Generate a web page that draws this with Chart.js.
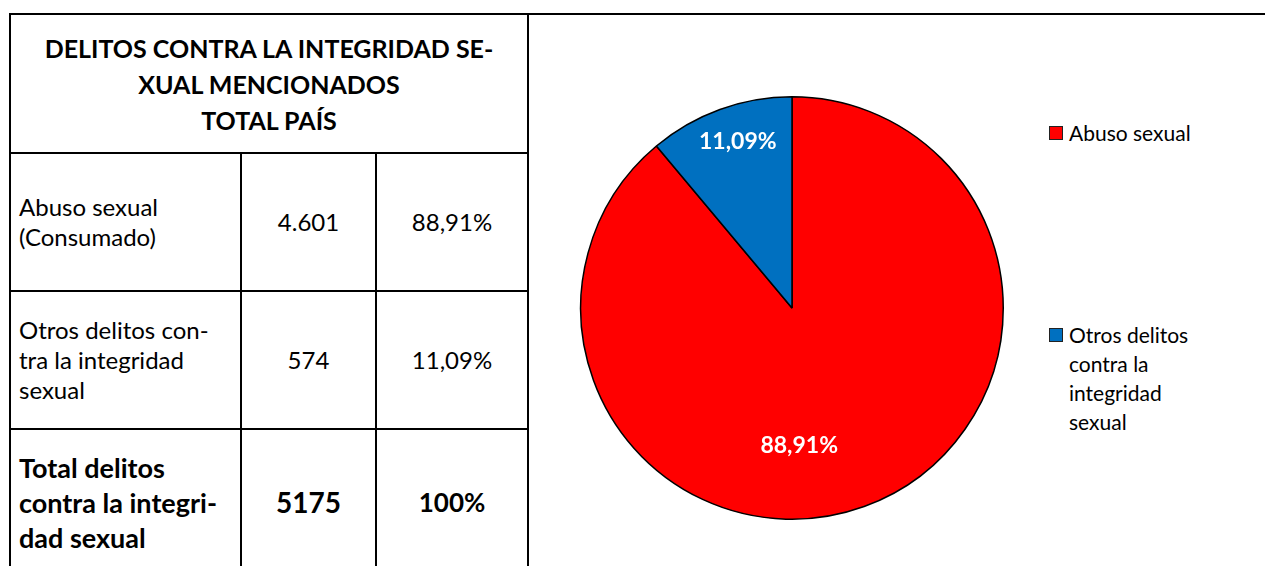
<!DOCTYPE html>
<html>
<head>
<meta charset="utf-8">
<title>Delitos contra la integridad sexual</title>
<script src="https://cdn.jsdelivr.net/npm/chart.js@4.4.0/dist/chart.umd.min.js"></script>
<style>
  html, body { margin: 0; padding: 0; background: #fff; overflow: hidden; }
  body { width: 1265px; height: 566px; position: relative; font-family: Lato, "Open Sans", sans-serif; color: #000; }
  #topline { position: absolute; left: 527px; right: 0; top: 13px; height: 2px; background: #000; }
  table { position: absolute; left: 9px; top: 13px; border-collapse: collapse; table-layout: fixed; }
  td { border: 2px solid #000; padding: 0 8px; vertical-align: middle; }
  td.head { height: 137px; text-align: center; font-weight: bold; font-size: 25px; line-height: 36px; }
  tr.row td { height: 136px; font-size: 24px; line-height: 30px; }
  td.num { text-align: center; }
  tr.total td { font-weight: bold; font-size: 27px; line-height: 35px; padding-top: 4px; }
  tr.total td.big { font-size: 28px; }
  tr.total td.pct { font-size: 26px; }
  #pie-box { position: absolute; left: 577px; top: 93px; width: 430px; height: 430px; }
  .legend { position: absolute; left: 1049px; font-size: 21px; line-height: 29px; }
  .legend .sw { position: absolute; left: 0; top: 8px; width: 12px; height: 12px; border: 1px solid #222; }
  .legend .tx { position: absolute; left: 20px; top: 0; width: 180px; }
</style>
</head>
<body>
<div id="topline"></div>
<table>
  <colgroup><col style="width:231px"><col style="width:135px"><col style="width:152px"></colgroup>
  <tr><td class="head" colspan="3">DELITOS CONTRA LA INTEGRIDAD SE-<br>XUAL MENCIONADOS<br>TOTAL PAÍS</td></tr>
  <tr class="row"><td>Abuso sexual<br>(Consumado)</td><td class="num" id="v0"></td><td class="num" id="p0"></td></tr>
  <tr class="row"><td>Otros delitos con-<br>tra la integridad<br>sexual</td><td class="num" id="v1"></td><td class="num" id="p1"></td></tr>
  <tr class="row total"><td>Total delitos<br>contra la integri-<br>dad sexual</td><td class="num big" id="vt"></td><td class="num pct" id="pt"></td></tr>
</table>
<div id="pie-box"><canvas id="pie"></canvas></div>
<div id="legend"></div>
<script>
// categories and counts
const categories = ['Abuso sexual', 'Otros delitos contra la integridad sexual'];
const legendLines = [['Abuso sexual'], ['Otros delitos', 'contra la', 'integridad', 'sexual']];
const counts = [4601, 574];
const countText = ['4.601', '574'];
const shares = ['88,91%', '11,09%'];
const total = 5175;
const totalShare = '100%';
const colors = ['#ff0000', '#0070c0'];

// table cells
document.getElementById('v0').textContent = countText[0];
document.getElementById('v1').textContent = countText[1];
document.getElementById('p0').textContent = shares[0];
document.getElementById('p1').textContent = shares[1];
document.getElementById('vt').textContent = String(total);
document.getElementById('pt').textContent = totalShare;

// legend on the right, one block per slice
const legendTops = [118, 320];
const legend = document.getElementById('legend');
categories.forEach((c, i) => {
  const item = document.createElement('div');
  item.className = 'legend';
  item.style.top = legendTops[i] + 'px';
  item.innerHTML = '<div class="sw" style="background:' + colors[i] + '"></div><div class="tx">' + legendLines[i].join('<br>') + '</div>';
  legend.appendChild(item);
});

// white percentage labels inside the slices
// angle: degrees clockwise from 12 o'clock (null = middle of slice), r: fraction of radius
const sliceLabels = {
  id: 'sliceLabels',
  afterDatasetsDraw(chart, args, opts) {
    const ctx = chart.ctx;
    const arcs = chart.getDatasetMeta(0).data;
    ctx.save();
    ctx.fillStyle = '#fff';
    ctx.font = 'bold 23px Lato, sans-serif';
    ctx.textAlign = 'center';
    ctx.textBaseline = 'middle';
    arcs.forEach((arc, i) => {
      const p = opts.place[i];
      const a = p.angle === null ? (arc.startAngle + arc.endAngle) / 2 : (p.angle - 90) * Math.PI / 180;
      const r = arc.outerRadius * p.r;
      ctx.fillText(opts.text[i], arc.x + Math.cos(a) * r, arc.y + Math.sin(a) * r);
    });
    ctx.restore();
  }
};

new Chart(document.getElementById('pie'), {
  type: 'pie',
  data: {
    labels: categories,
    datasets: [{
      data: counts,
      backgroundColor: colors,
      borderColor: '#000',
      borderWidth: 1.5
    }]
  },
  options: {
    responsive: true,
    maintainAspectRatio: false,
    animation: false,
    layout: { padding: 3 },
    plugins: {
      legend: { display: false },
      tooltip: { enabled: false },
      sliceLabels: {
        text: shares,
        place: [{ angle: 177, r: 0.65 }, { angle: -18, r: 0.83 }]
      }
    }
  },
  plugins: [sliceLabels]
});
</script>
</body>
</html>
